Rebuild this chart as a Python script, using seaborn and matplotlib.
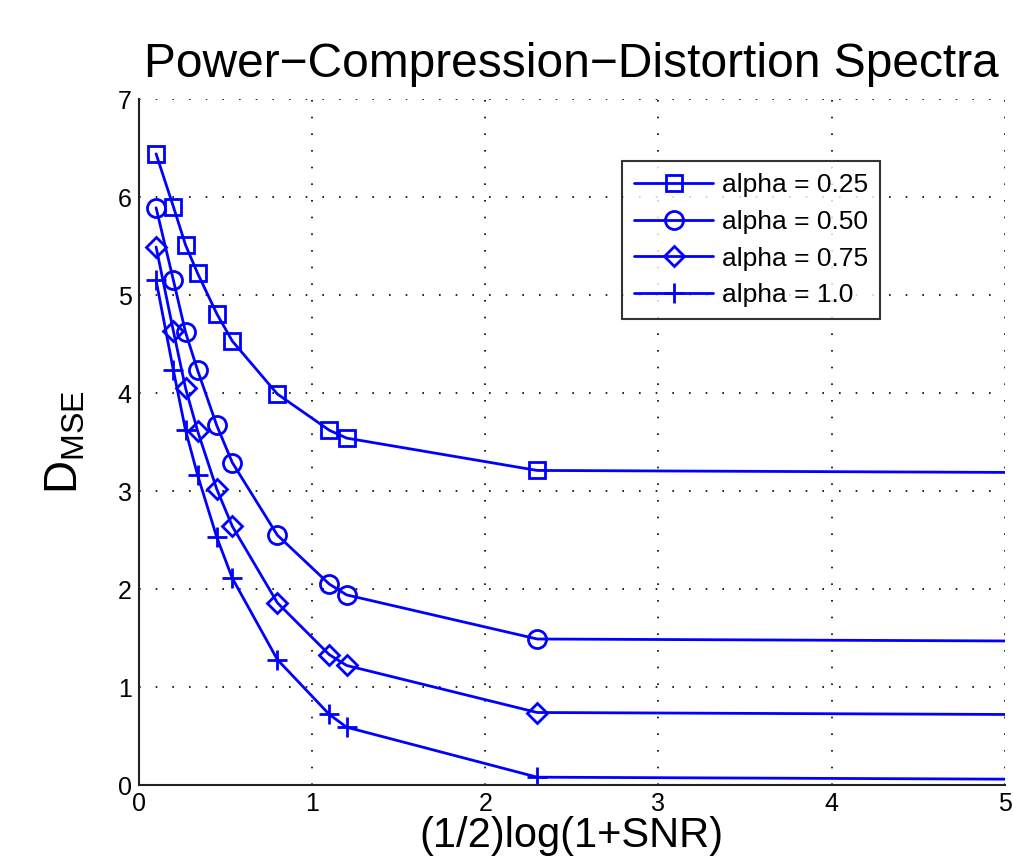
# ==========================================
# Power-Compression-Distortion Spectra
# ==========================================

import numpy as np
import pandas as pd
import matplotlib
matplotlib.use("Agg")
import matplotlib.pyplot as plt
import seaborn as sns
from matplotlib.ticker import MultipleLocator

# ==========================================
# Data
# ==========================================

snr = [0.10, 0.20, 0.27, 0.34, 0.45, 0.54, 0.80, 1.10, 1.20, 2.30, 5.00]

d_025 = [6.44, 5.90, 5.51, 5.22, 4.81, 4.53, 3.99, 3.62, 3.54, 3.21, 3.19]
d_050 = [5.89, 5.15, 4.62, 4.23, 3.67, 3.29, 2.55, 2.05, 1.94, 1.49, 1.47]
d_075 = [5.49, 4.63, 4.05, 3.61, 3.02, 2.64, 1.86, 1.33, 1.22, 0.74, 0.72]
d_100 = [5.15, 4.23, 3.62, 3.16, 2.53, 2.11, 1.28, 0.72, 0.59, 0.08, 0.06]

labels = ["alpha = 0.25", "alpha = 0.50", "alpha = 0.75", "alpha = 1.0"]
series = [d_025, d_050, d_075, d_100]
markers = ["s", "o", "D", "+"]
msizes = [11, 13, 10, 15]

# ==========================================
# Style
# ==========================================

sns.set_style("white")
plt.rcParams["font.family"] = ["Liberation Sans", "DejaVu Sans"]
plt.rcParams["text.color"] = "black"
plt.rcParams["axes.labelcolor"] = "black"
plt.rcParams["xtick.color"] = "black"
plt.rcParams["ytick.color"] = "black"

fig = plt.figure(figsize=(10.13, 8.64), dpi=100)
ax = fig.add_axes([0.137, 0.0914, 0.855, 0.794])

# ==========================================
# Plot
# ==========================================

for vals, lab, m, ms in zip(series, labels, markers, msizes):
    df = pd.DataFrame({"x": snr, "y": vals})
    sns.lineplot(
        data=df, x="x", y="y", ax=ax,
        color="blue", linewidth=2,
        marker=m, markersize=ms,
        markerfacecolor="none", markeredgecolor="blue",
        markeredgewidth=2,
        markevery=slice(0, len(snr) - 1),
        label=lab, estimator=None, errorbar=None,
    )

ax.set_xlim(0, 5)
ax.set_ylim(0, 7)
ax.xaxis.set_major_locator(MultipleLocator(1))
ax.yaxis.set_major_locator(MultipleLocator(1))
ax.xaxis.set_minor_locator(MultipleLocator(0.1))
ax.yaxis.set_minor_locator(MultipleLocator(0.125))

ax.grid(True, which="major", color="black", linestyle=(0, (1, 9)), linewidth=1.2)
ax.tick_params(which="major", direction="in", length=8, width=1.2,
               labelsize=18, pad=5)
ax.tick_params(which="minor", direction="in", length=4, width=1, colors="#333333")

for side in ["top", "right"]:
    ax.spines[side].set_visible(False)
for side in ["left", "bottom"]:
    ax.spines[side].set_color("#222222")
    ax.spines[side].set_linewidth(1.5)

ax.set_title("Power\u2212Compression\u2212Distortion Spectra", fontsize=34.5, pad=16)
ax.set_xlabel("(1/2)log(1+SNR)", fontsize=30, labelpad=0)
ax.set_ylabel(r"$\mathregular{D_{MSE}}$", fontsize=33, labelpad=22)

leg = ax.legend(
    loc="upper left", bbox_to_anchor=(0.558, 0.909), borderaxespad=0,
    fontsize=19, frameon=True, fancybox=False, edgecolor="black",
    handlelength=3.0, handletextpad=0.35, labelspacing=0.48,
    borderpad=0.45,
)
leg.get_frame().set_linewidth(1.5)

fig.savefig("out.png", dpi=100)
